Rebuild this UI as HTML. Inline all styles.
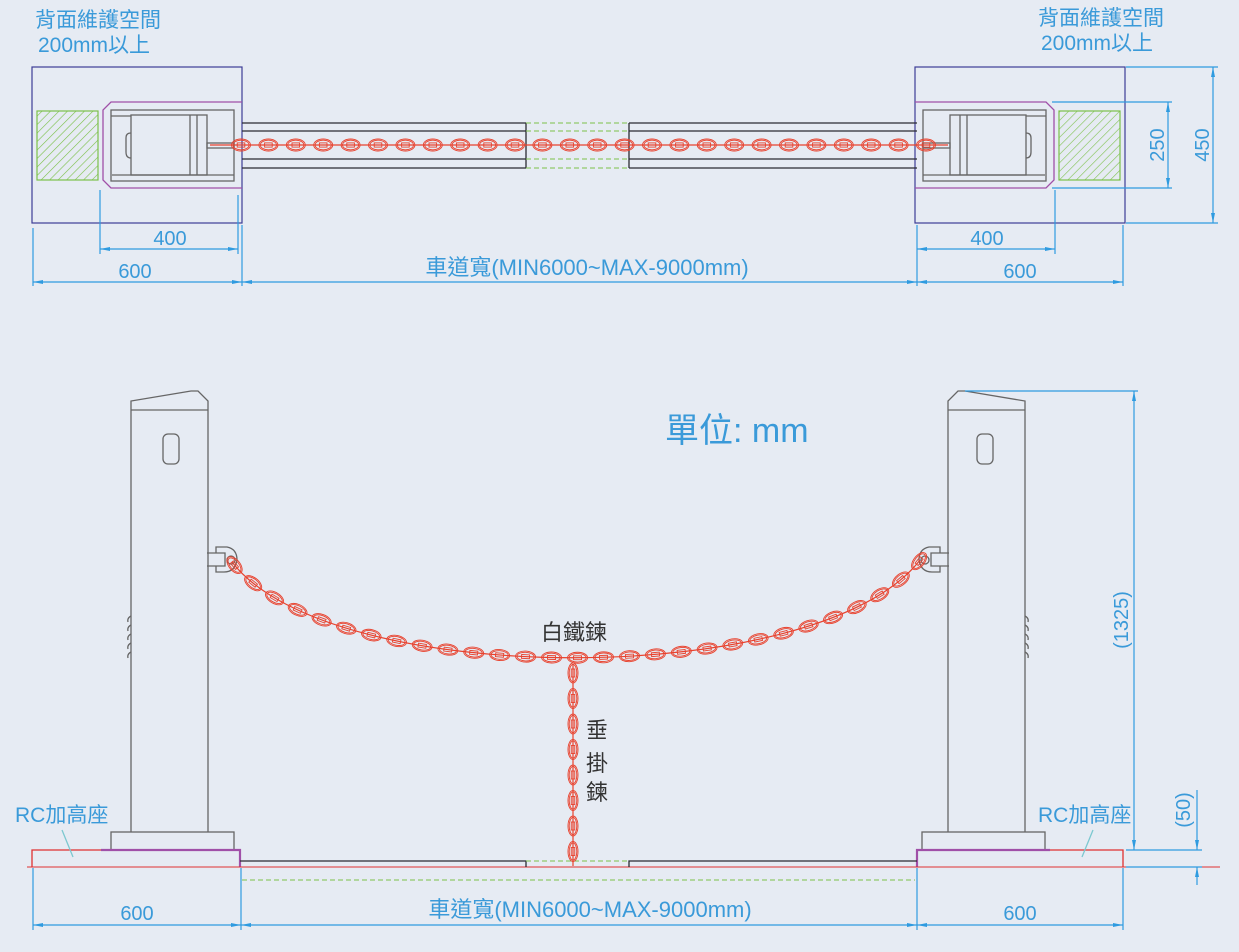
<!DOCTYPE html>
<html><head><meta charset="utf-8"><style>
html,body{margin:0;padding:0;background:#e6ebf3;}
svg{display:block;}
text{font-family:"Liberation Sans","Noto Sans CJK TC",sans-serif;}
.b{fill:#3a9ad9;font-size:20px;}
.d{stroke:#2f9be0;stroke-width:1.2;fill:none;}
.g{stroke:#666;stroke-width:1.3;fill:none;}
.k{stroke:#2b2b33;stroke-width:1.3;fill:none;}
.lk{stroke:#e8422e;fill:none;stroke-width:0.9;}
</style></head><body>
<svg id="s" width="1239" height="952" viewBox="0 0 1239 952" xmlns="http://www.w3.org/2000/svg">
<defs>
<pattern id="h" width="6" height="6" patternUnits="userSpaceOnUse" patternTransform="rotate(45)">
<line x1="0" y1="0" x2="0" y2="6" stroke="#7cc04a" stroke-width="1.2"/></pattern>
<marker id="a" markerWidth="10" markerHeight="6" refX="10" refY="3" orient="auto-start-reverse" markerUnits="userSpaceOnUse"><path d="M0,1 L10,3 L0,5z" fill="#2f9be0"/></marker>
</defs>

<text class="b" x="35" y="27" style="font-size:21px">背面維護空間</text>
<text class="b" x="38" y="52" style="font-size:21px">200mm以上</text>
<text class="b" x="1038" y="25" style="font-size:21px">背面維護空間</text>
<text class="b" x="1041" y="50" style="font-size:21px">200mm以上</text>

<g id="unitL">
<rect x="32" y="67" width="210" height="156" fill="none" stroke="#3c3c96" stroke-width="1.2"/>
<path d="M242,102 L111,102 L103,110 L103,180 L111,188 L242,188" fill="none" stroke="#a050a8" stroke-width="1.3"/>
<rect x="111" y="110" width="123" height="71" class="g"/>
<rect x="131" y="115" width="76" height="60" class="g"/>
<line x1="111" y1="116" x2="131" y2="116" class="g"/>
<line x1="112" y1="175" x2="234" y2="175" class="g"/>
<line x1="190" y1="115" x2="190" y2="175" class="g"/>
<line x1="197" y1="115" x2="197" y2="175" class="g"/>
<rect x="207" y="143" width="27" height="5" class="g"/>
<path d="M131,133 Q126,133 126,138 L126,152 Q126,158 131,158" class="g"/>
</g>
<use href="#unitL" transform="translate(1157,0) scale(-1,1)"/>
<rect x="37" y="111" width="61" height="69" fill="url(#h)" stroke="#7cc04a" stroke-width="1.2"/>
<rect x="1059" y="111" width="61" height="69" fill="url(#h)" stroke="#7cc04a" stroke-width="1.2"/>

<g class="k">
<line x1="242" y1="123" x2="526" y2="123"/><line x1="242" y1="131" x2="526" y2="131"/>
<line x1="242" y1="159" x2="526" y2="159"/><line x1="242" y1="168" x2="526" y2="168"/>
<line x1="629" y1="123" x2="917" y2="123"/><line x1="629" y1="131" x2="917" y2="131"/>
<line x1="629" y1="159" x2="917" y2="159"/><line x1="629" y1="168" x2="917" y2="168"/>
<line x1="526" y1="123" x2="526" y2="168"/><line x1="629" y1="123" x2="629" y2="168"/>
</g>
<g stroke="#7cc04a" stroke-width="1" stroke-dasharray="5,3">
<line x1="526" y1="123" x2="629" y2="123"/><line x1="526" y1="131" x2="629" y2="131"/>
<line x1="526" y1="159" x2="629" y2="159"/><line x1="526" y1="168" x2="629" y2="168"/>
</g>
<line x1="210" y1="145" x2="948" y2="145" stroke="#e8422e" stroke-width="1.2"/>
<g id="topchain"></g>

<g class="d">
<line x1="33" y1="228" x2="33" y2="286"/><line x1="100" y1="190" x2="100" y2="254"/>
<line x1="238" y1="195" x2="238" y2="254"/><line x1="242" y1="225" x2="242" y2="286"/>
<line x1="100" y1="249" x2="238" y2="249" marker-start="url(#a)" marker-end="url(#a)"/>
<line x1="33" y1="282" x2="242" y2="282" marker-start="url(#a)" marker-end="url(#a)"/>
<line x1="242" y1="282" x2="917" y2="282" marker-start="url(#a)" marker-end="url(#a)"/>
<line x1="917" y1="225" x2="917" y2="286"/><line x1="1055" y1="190" x2="1055" y2="254"/>
<line x1="1123" y1="225" x2="1123" y2="286"/>
<line x1="917" y1="249" x2="1055" y2="249" marker-start="url(#a)" marker-end="url(#a)"/>
<line x1="917" y1="282" x2="1123" y2="282" marker-start="url(#a)" marker-end="url(#a)"/>
<line x1="1052" y1="102" x2="1172" y2="102"/><line x1="1052" y1="188" x2="1172" y2="188"/>
<line x1="1168" y1="102" x2="1168" y2="188" marker-start="url(#a)" marker-end="url(#a)"/>
<line x1="1126" y1="67" x2="1218" y2="67"/><line x1="1126" y1="223" x2="1218" y2="223"/>
<line x1="1213" y1="67" x2="1213" y2="223" marker-start="url(#a)" marker-end="url(#a)"/>
</g>
<text class="b" x="170" y="245" text-anchor="middle">400</text>
<text class="b" x="135" y="278" text-anchor="middle">600</text>
<text class="b" x="587" y="275" text-anchor="middle" style="font-size:22px">車道寬(MIN6000~MAX-9000mm)</text>
<text class="b" x="987" y="245" text-anchor="middle">400</text>
<text class="b" x="1020" y="278" text-anchor="middle">600</text>
<text class="b" transform="translate(1164,145) rotate(-90)" text-anchor="middle">250</text>
<text class="b" transform="translate(1209,145) rotate(-90)" text-anchor="middle">450</text>

<text x="665" y="442" fill="#3a9ad9" style="font-size:34px">單位: mm</text>

<g id="postL">
<path d="M131,832 L131,401 L191,391 L198,391 L208,401 L208,832" class="g"/>
<line x1="131" y1="410" x2="208" y2="410" class="g"/>
<rect x="163" y="434" width="16" height="30" rx="5" class="g"/>
<rect x="111" y="832" width="123" height="18" class="g"/>
<path d="M207,553 L225,553 L225,566 L207,566" class="g"/>
<path d="M216,553 L216,547 L227,547 Q237,549 237,560 Q235,572 224,572 L216,572 L216,566" class="g"/>
<circle cx="231" cy="560" r="4" class="g"/>
<path d="M131,616 q-4,2 -3,6 M131,625 q-4,2 -3,6 M131,634 q-4,2 -3,6 M131,643 q-4,2 -3,6 M131,652 q-4,2 -3,6" class="g" stroke-width="1"/>
</g>
<use href="#postL" transform="translate(1156,0) scale(-1,1)"/>

<path d="M32,867 L32,850 L101,850" fill="none" stroke="#e03030" stroke-width="1.3"/>
<path d="M101,850 L240,850 L240,867" fill="none" stroke="#a050a8" stroke-width="2.2"/>
<path d="M1123,867 L1123,850 L1050,850" fill="none" stroke="#e03030" stroke-width="1.3"/>
<path d="M1050,850 L917,850 L917,867" fill="none" stroke="#a050a8" stroke-width="2.2"/>
<line x1="27" y1="867" x2="1220" y2="867" stroke="#e03030" stroke-width="1.1"/>
<path d="M240,861 L526,861 L526,867 M629,867 L629,861 L917,861" class="k"/>
<line x1="526" y1="861" x2="629" y2="861" stroke="#7cc04a" stroke-dasharray="5,3"/>
<line x1="242" y1="880" x2="915" y2="880" stroke="#7cc04a" stroke-width="1" stroke-dasharray="5,3"/>
<line x1="62" y1="830" x2="73" y2="857" stroke="#7cc8d0" stroke-width="1.3"/>
<line x1="1093" y1="830" x2="1082" y2="857" stroke="#7cc8d0" stroke-width="1.3"/>
<text class="b" x="15" y="822" style="font-size:21px">RC加高座</text>
<text class="b" x="1038" y="822" style="font-size:21px">RC加高座</text>

<path id="cat" d="M232,562 C330,690 820,690 920,560" fill="none" stroke="#e8422e" stroke-width="1.2"/>
<line x1="573" y1="664" x2="573" y2="866" stroke="#e8422e" stroke-width="1.2"/>
<g id="frontchain"></g>
<text x="541" y="640" fill="#333" style="font-size:22px">白鐵鍊</text>
<text x="586" y="738" fill="#333" style="font-size:22px">垂</text>
<text x="586" y="771" fill="#333" style="font-size:22px">掛</text>
<text x="586" y="800" fill="#333" style="font-size:22px">鍊</text>

<g class="d">
<line x1="33" y1="868" x2="33" y2="930"/><line x1="241" y1="868" x2="241" y2="930"/>
<line x1="917" y1="868" x2="917" y2="930"/><line x1="1123" y1="868" x2="1123" y2="930"/>
<line x1="33" y1="925" x2="241" y2="925" marker-start="url(#a)" marker-end="url(#a)"/>
<line x1="241" y1="925" x2="917" y2="925" marker-start="url(#a)" marker-end="url(#a)"/>
<line x1="917" y1="925" x2="1123" y2="925" marker-start="url(#a)" marker-end="url(#a)"/>
<line x1="965" y1="391" x2="1138" y2="391"/>
<line x1="1134" y1="391" x2="1134" y2="850" marker-start="url(#a)" marker-end="url(#a)"/>
<line x1="1126" y1="850" x2="1202" y2="850"/>
<line x1="1126" y1="867" x2="1202" y2="867"/>
<line x1="1197" y1="790" x2="1197" y2="850" marker-end="url(#a)"/>
<line x1="1197" y1="867" x2="1197" y2="885" marker-start="url(#a)"/>
</g>
<text class="b" x="137" y="920" text-anchor="middle">600</text>
<text class="b" x="590" y="917" text-anchor="middle" style="font-size:22px">車道寬(MIN6000~MAX-9000mm)</text>
<text class="b" x="1020" y="920" text-anchor="middle">600</text>
<text class="b" transform="translate(1128,620) rotate(-90)" text-anchor="middle">(1325)</text>
<text class="b" transform="translate(1190,810) rotate(-90)" text-anchor="middle">(50)</text>
</svg>
<script>
var NS="http://www.w3.org/2000/svg";
function link(g,x,y,ang,rx,ry){
 var e=document.createElementNS(NS,"g");
 e.setAttribute("transform","translate("+x+","+y+") rotate("+ang+")");
 e.innerHTML='<ellipse class="lk" rx="'+rx+'" ry="'+ry+'"/><ellipse class="lk" rx="'+(rx-1.4)+'" ry="'+(ry-1.2)+'"/><rect class="lk" x="'+(-rx*0.4)+'" y="'+(-ry*0.35)+'" width="'+(rx*0.8)+'" height="'+(ry*0.7)+'"/>';
 g.appendChild(e);
}
var tg=document.getElementById("topchain");
for(var x=241;x<=940;x+=27.4){link(tg,x,145,0,9.5,6);}
var fg=document.getElementById("frontchain");
var p=document.getElementById("cat"),L=p.getTotalLength();
for(var s=4;s<L;s+=26){
 var a=p.getPointAtLength(s),b=p.getPointAtLength(Math.min(L,s+1));
 var an=Math.atan2(b.y-a.y,b.x-a.x)*180/Math.PI;
 link(fg,a.x,a.y,an,10,5.5);
}
for(var y=673;y<=860;y+=25.5){link(fg,573,y,90,10,5);}
</script>
</body></html>
